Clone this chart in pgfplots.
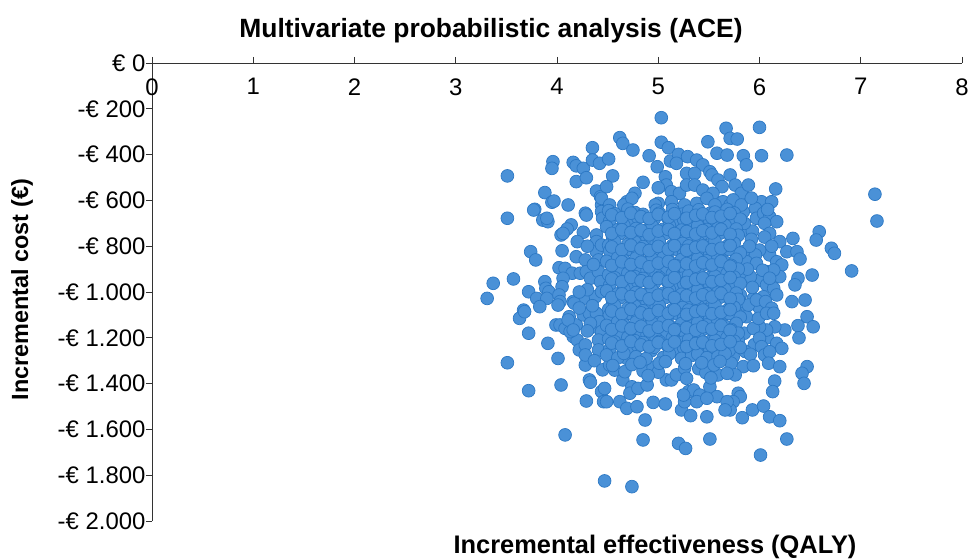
\documentclass[border=0pt]{standalone}
\usepackage{pgfplots}
\pgfplotsset{compat=1.18}
\usepackage{fontspec}
\setmainfont{Liberation Sans}
\definecolor{ptfill}{RGB}{74,145,215}
\definecolor{ptdraw}{RGB}{44,120,196}
\begin{document}
\begin{tikzpicture}
\useasboundingbox (-152bp,-38bp) rectangle (818bp,521bp);
\begin{axis}[
  at={(0,0)}, anchor=south west,
  scale only axis, width=810bp, height=458bp,
  xmin=0, xmax=8, ymin=-2000, ymax=0,
  axis x line=top, axis y line=left,
  axis line style={-, black!80, line width=0.8bp},
  x axis line style={-}, y axis line style={-},
  tick align=outside, major tick length=6bp,
  tick style={black!80, line width=0.8bp},
  xtick={0,1,...,8}, xticklabels={0,1,2,3,4,5,6,7,8},
  ytick={-2000,-1800,...,0},
  yticklabels={-€ 2.000,-€ 1.800,-€ 1.600,-€ 1.400,-€ 1.200,-€ 1.000,-€ 800,-€ 600,-€ 400,-€ 200,€ 0},
  ticklabel style={font=\fontsize{24}{28}\selectfont, text=black},
  xticklabel style={anchor=north, yshift=-18bp},
  yticklabel style={xshift=3bp},
  title={Multivariate probabilistic analysis (ACE)},
  title style={font=\bfseries\fontsize{26.5}{30}\selectfont, at={(axis description cs:0.4185,1)}, anchor=base, yshift=20bp},
  xlabel={Incremental effectiveness (QALY)},
  xlabel style={font=\bfseries\fontsize{25.5}{30}\selectfont, at={(axis description cs:0.621,0)}, anchor=base, yshift=-32bp},
  ylabel={Incremental cost (€)},
  ylabel style={font=\bfseries\fontsize{23.5}{28}\selectfont, at={(axis description cs:-0.1605,0.505)}, anchor=center},
]
\addplot[only marks, mark=*, mark size=6.4bp, mark options={fill=ptfill, draw=ptdraw, line width=0.7bp}] table {
x y
4.35 -370
3.96 -431
3.95 -460
4.16 -434
4.19 -449
4.26 -460
4.35 -424
4.42 -438
3.51 -493
4.19 -518
4.29 -501
3.88 -566
3.95 -608
3.97 -603
4.11 -620
3.78 -639
4.28 -656
4.29 -664
4.39 -559
4.43 -584
4.44 -620
4.44 -649
4.45 -678
3.51 -678
3.86 -686
3.91 -693
3.90 -678
4.14 -707
4.10 -725
4.04 -751
4.26 -739
4.39 -751
4.39 -780
4.20 -780
4.05 -820
3.74 -824
3.79 -860
4.19 -846
4.28 -860
4.39 -824
4.41 -860
4.44 -795
4.02 -894
4.08 -897
4.15 -918
4.23 -918
4.29 -911
4.33 -940
4.41 -911
4.43 -955
4.06 -940
4.05 -977
3.37 -962
3.57 -943
3.88 -955
3.89 -984
3.92 -999
3.31 -1028
3.72 -999
3.80 -1028
3.90 -1028
4.02 -1013
4.03 -1042
4.16 -1042
4.26 -1028
4.38 -1021
4.44 -999
3.83 -1064
3.67 -1079
3.63 -1115
3.72 -1180
3.91 -1224
3.51 -1309
4.01 -1290
3.72 -1431
4.04 -1406
4.28 -1319
4.32 -1384
4.33 -1394
4.29 -1476
4.44 -1435
4.46 -1479
4.08 -1624
4.47 -1825
4.12 -1108
4.19 -1144
4.26 -1100
4.32 -1093
4.39 -1093
4.36 -1152
4.42 -1130
4.44 -1173
4.41 -1210
4.16 -1195
4.20 -1210
4.22 -1253
4.28 -1231
4.28 -1275
3.99 -1144
4.03 -1144
4.08 -1159
4.13 -1173
4.41 -1253
4.17 -1049
4.01 -1057
3.68 -1086
3.77 -642
4.06 -744
4.11 -1122
4.16 -1166
4.33 -1137
4.30 -990
4.22 -1070
4.35 -1060
4.30 -1170
4.37 -1300
4.45 -1340
4.22 -1000
4.36 -880
4.30 -800
5.03 -239
4.62 -326
4.65 -351
4.75 -380
5.03 -346
5.10 -370
4.91 -405
5.67 -285
5.71 -329
5.78 -332
5.49 -344
5.58 -394
5.68 -402
4.51 -419
4.99 -453
5.12 -428
5.20 -399
5.29 -409
5.38 -424
5.44 -445
4.55 -493
5.07 -497
5.08 -533
5.18 -438
5.28 -482
5.36 -482
5.51 -475
5.53 -489
5.59 -511
5.63 -540
5.71 -489
4.85 -521
4.77 -569
4.69 -606
4.66 -620
4.74 -591
4.49 -540
4.44 -591
4.52 -620
5.00 -545
5.13 -562
5.21 -569
5.28 -533
5.36 -533
5.44 -555
5.54 -569
5.64 -606
5.00 -613
4.97 -620
5.13 -606
5.26 -620
5.38 -613
5.48 -591
5.56 -620
5.71 -620
6.00 -281
5.84 -405
5.87 -445
6.02 -405
6.27 -402
5.76 -533
5.82 -569
5.89 -533
5.74 -598
5.76 -664
5.84 -649
5.71 -686
6.16 -550
6.02 -606
6.12 -606
5.96 -635
5.97 -678
6.04 -656
6.10 -671
6.17 -693
6.05 -700
6.10 -744
6.20 -780
6.33 -766
6.59 -737
6.56 -773
6.71 -809
6.74 -831
6.91 -908
5.86 -729
5.93 -734
5.76 -766
5.71 -795
6.27 -824
6.37 -824
6.40 -856
6.10 -838
6.00 -817
5.96 -838
5.84 -824
5.78 -846
5.87 -868
5.97 -875
6.17 -868
6.22 -882
6.52 -926
6.38 -940
6.35 -969
6.20 -933
6.07 -911
6.14 -904
6.00 -948
5.91 -933
5.81 -918
5.74 -940
6.07 -969
6.14 -984
6.32 -1042
6.45 -1035
6.17 -1013
6.04 -1021
5.94 -1028
5.81 -1013
5.74 -991
5.85 -700
5.92 -770
6.05 -760
5.90 -800
6.12 -800
5.88 -900
6.03 -905
5.93 -980
6.10 -940
5.86 -1070
6.00 -1070
5.85 -1180
5.95 -1230
6.08 -1200
5.86 -1260
5.82 -620
5.92 -590
6.08 -640
7.14 -573
7.16 -690
6.47 -1108
6.53 -1152
6.38 -1147
6.39 -1200
6.25 -1166
6.15 -1152
6.07 -1166
6.00 -1152
5.94 -1159
5.87 -1108
5.77 -1130
5.74 -1159
5.81 -1042
5.89 -1057
5.97 -1035
6.06 -1042
6.12 -1071
5.77 -1093
5.99 -1115
6.07 -1093
6.14 -1093
5.79 -1210
5.74 -1239
6.00 -1202
6.02 -1239
6.17 -1224
6.22 -1246
6.05 -1275
6.10 -1261
5.91 -1272
5.74 -1283
5.72 -1311
6.09 -1311
6.20 -1326
5.84 -1326
5.94 -1322
5.76 -1362
6.47 -1326
6.42 -1355
6.44 -1399
6.15 -1389
6.13 -1435
5.79 -1442
5.81 -1457
5.74 -1479
5.71 -1515
5.83 -1549
5.93 -1515
6.04 -1498
6.10 -1545
6.20 -1562
6.27 -1642
6.01 -1712
4.74 -1850
4.85 -1646
5.20 -1661
5.27 -1683
5.51 -1642
4.87 -1559
5.23 -1515
5.32 -1540
5.48 -1545
4.95 -1482
5.07 -1489
4.62 -1479
4.69 -1508
4.79 -1501
4.49 -1479
4.47 -1421
4.65 -1384
4.74 -1414
4.72 -1442
4.80 -1421
4.89 -1406
4.85 -1345
4.52 -1319
4.57 -1341
4.69 -1290
4.67 -1348
5.08 -1384
5.13 -1384
5.18 -1362
5.26 -1333
5.28 -1377
5.30 -1435
5.35 -1428
5.41 -1450
5.38 -1479
5.26 -1479
5.25 -1450
5.51 -1414
5.58 -1457
5.59 -1362
5.68 -1355
5.68 -1479
5.66 -1515
5.48 -1464
4.95 -1330
5.00 -1350
5.40 -1335
5.47 -1352
4.90 -1365
5.52 -1375
4.51 -645
4.57 -658
4.70 -638
4.77 -653
4.85 -661
4.98 -643
5.01 -656
5.14 -640
5.24 -660
5.30 -647
5.40 -641
5.51 -657
5.56 -651
5.68 -639
5.75 -655
4.52 -691
4.65 -675
4.72 -687
4.80 -677
4.93 -697
4.96 -681
5.09 -674
5.19 -692
5.25 -683
5.35 -694
5.46 -679
5.51 -689
5.63 -673
5.70 -695
5.81 -682
4.49 -715
4.60 -728
4.66 -708
4.78 -723
4.88 -731
4.94 -713
5.05 -726
5.11 -710
5.23 -730
5.33 -717
5.39 -711
5.48 -727
5.59 -721
5.66 -709
5.77 -725
4.55 -761
4.62 -745
4.74 -757
4.82 -747
4.89 -767
5.01 -751
5.07 -744
5.18 -762
5.27 -753
5.34 -764
5.43 -749
5.55 -759
5.61 -743
5.72 -765
5.79 -752
4.51 -796
4.57 -780
4.70 -792
4.77 -782
4.85 -802
4.98 -786
5.01 -779
5.14 -797
5.24 -788
5.30 -799
5.40 -784
5.51 -794
5.56 -778
5.68 -800
5.75 -787
4.52 -820
4.65 -833
4.72 -813
4.80 -828
4.93 -836
4.96 -818
5.09 -831
5.19 -815
5.25 -835
5.35 -822
5.46 -816
5.51 -832
5.63 -826
5.70 -814
5.81 -830
4.49 -866
4.60 -850
4.66 -862
4.78 -852
4.88 -872
4.94 -856
5.05 -849
5.11 -867
5.23 -858
5.33 -869
5.39 -854
5.48 -864
5.59 -848
5.66 -870
5.77 -857
4.55 -890
4.62 -903
4.74 -883
4.82 -898
4.89 -906
5.01 -888
5.07 -901
5.18 -885
5.27 -905
5.34 -892
5.43 -886
5.55 -902
5.61 -896
5.72 -884
5.79 -900
4.51 -925
4.57 -938
4.70 -918
4.77 -933
4.85 -941
4.98 -923
5.01 -936
5.14 -920
5.24 -940
5.30 -927
5.40 -921
5.51 -937
5.56 -931
5.68 -919
5.75 -935
4.52 -971
4.65 -955
4.72 -967
4.80 -957
4.93 -977
4.96 -961
5.09 -954
5.19 -972
5.25 -963
5.35 -974
5.46 -959
5.51 -969
5.63 -953
5.70 -975
5.81 -962
4.49 -995
4.60 -1008
4.66 -988
4.78 -1003
4.88 -1011
4.94 -993
5.05 -1006
5.11 -990
5.23 -1010
5.33 -997
5.39 -991
5.48 -1007
5.59 -1001
5.66 -989
5.77 -1005
4.55 -1041
4.62 -1025
4.74 -1037
4.82 -1027
4.89 -1047
5.01 -1031
5.07 -1024
5.18 -1042
5.27 -1033
5.34 -1044
5.43 -1029
5.55 -1039
5.61 -1023
5.72 -1045
5.79 -1032
4.51 -1076
4.57 -1060
4.70 -1072
4.77 -1062
4.85 -1082
4.98 -1066
5.01 -1059
5.14 -1077
5.24 -1068
5.30 -1079
5.40 -1064
5.51 -1074
5.56 -1058
5.68 -1080
5.75 -1067
4.52 -1100
4.65 -1113
4.72 -1093
4.80 -1108
4.93 -1116
4.96 -1098
5.09 -1111
5.19 -1095
5.25 -1115
5.35 -1102
5.46 -1096
5.51 -1112
5.63 -1106
5.70 -1094
5.81 -1110
4.49 -1146
4.60 -1130
4.66 -1142
4.78 -1132
4.88 -1152
4.94 -1136
5.05 -1129
5.11 -1147
5.23 -1138
5.33 -1149
5.39 -1134
5.48 -1144
5.59 -1128
5.66 -1150
5.77 -1137
4.55 -1170
4.62 -1183
4.74 -1163
4.82 -1178
4.89 -1186
5.01 -1168
5.07 -1181
5.18 -1165
5.27 -1185
5.34 -1172
5.43 -1166
5.55 -1182
5.61 -1176
5.72 -1164
5.79 -1180
4.51 -1205
4.57 -1218
4.70 -1198
4.77 -1213
4.85 -1221
4.98 -1203
5.01 -1216
5.14 -1200
5.24 -1220
5.30 -1207
5.40 -1201
5.51 -1217
5.56 -1211
5.68 -1199
5.75 -1215
4.52 -1251
4.65 -1235
4.72 -1247
4.80 -1237
4.93 -1257
4.96 -1241
5.09 -1234
5.19 -1252
5.25 -1243
5.35 -1254
5.46 -1239
5.51 -1249
5.63 -1233
5.70 -1255
5.81 -1242
4.49 -1275
4.60 -1288
4.66 -1268
4.78 -1283
4.88 -1291
5.05 -1286
5.11 -1270
5.23 -1290
5.33 -1277
5.39 -1271
5.48 -1287
5.59 -1281
5.66 -1269
4.55 -1321
4.74 -1317
4.82 -1307
5.01 -1311
5.07 -1304
5.27 -1313
5.43 -1309
5.55 -1319
5.61 -1303
4.54 -663
4.64 -676
4.73 -656
4.83 -671
4.91 -679
5.00 -661
5.10 -674
5.16 -658
5.28 -678
5.37 -665
5.44 -659
5.53 -675
5.62 -669
5.71 -657
4.54 -744
4.64 -728
4.73 -740
4.83 -730
4.91 -750
5.00 -734
5.10 -727
5.16 -745
5.28 -736
5.37 -747
5.44 -732
5.53 -742
5.62 -726
5.71 -748
4.54 -803
4.64 -816
4.73 -796
4.83 -811
4.91 -819
5.00 -801
5.10 -814
5.16 -798
5.28 -818
5.37 -805
5.44 -799
5.53 -815
5.62 -809
5.71 -797
4.54 -884
4.64 -868
4.73 -880
4.83 -870
4.91 -890
5.00 -874
5.10 -867
5.16 -885
5.28 -876
5.37 -887
5.44 -872
5.53 -882
5.62 -866
5.71 -888
4.54 -943
4.64 -956
4.73 -936
4.83 -951
4.91 -959
5.00 -941
5.10 -954
5.16 -938
5.28 -958
5.37 -945
5.44 -939
5.53 -955
5.62 -949
5.71 -937
4.54 -1024
4.64 -1008
4.73 -1020
4.83 -1010
4.91 -1030
5.00 -1014
5.10 -1007
5.16 -1025
5.28 -1016
5.37 -1027
5.44 -1012
5.53 -1022
5.62 -1006
5.71 -1028
4.54 -1083
4.64 -1096
4.73 -1076
4.83 -1091
4.91 -1099
5.00 -1081
5.10 -1094
5.16 -1078
5.28 -1098
5.37 -1085
5.44 -1079
5.53 -1095
5.62 -1089
5.71 -1077
4.54 -1164
4.64 -1148
4.73 -1160
4.83 -1150
4.91 -1170
5.00 -1154
5.10 -1147
5.16 -1165
5.28 -1156
5.37 -1167
5.44 -1152
5.53 -1162
5.62 -1146
5.71 -1168
4.54 -1223
4.64 -1236
4.73 -1216
4.83 -1231
4.91 -1239
5.00 -1221
5.10 -1234
5.16 -1218
5.28 -1238
5.37 -1225
5.44 -1219
5.53 -1235
5.62 -1229
5.71 -1217
};
\end{axis}
\end{tikzpicture}
\end{document}
